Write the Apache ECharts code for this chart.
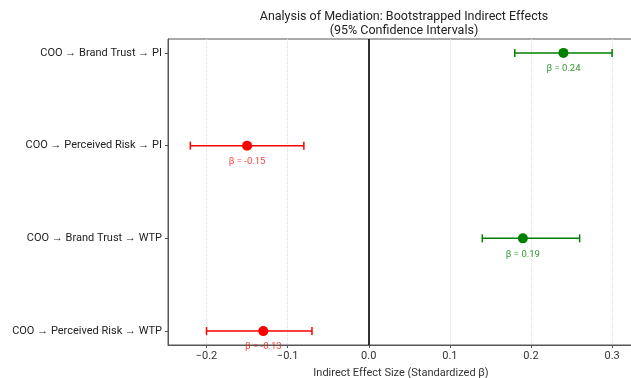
<!DOCTYPE html>
<html>
<head>
<meta charset="utf-8">
<script src="https://cdn.jsdelivr.net/npm/echarts@6/dist/echarts.min.js"></script>
<style>
  html, body { margin: 0; padding: 0; background: #fff; }
  #chart { width: 631px; height: 378px; }
</style>
</head>
<body>
<div id="chart"></div>
<script>
// mediation paths, top to bottom
const paths = ['COO → Brand Trust → PI', 'COO → Perceived Risk → PI', 'COO → Brand Trust → WTP', 'COO → Perceived Risk → WTP']
const betas = [0.24, -0.15, 0.19, -0.13]
const ciLow = [0.18, -0.22, 0.14, -0.20]
const ciHigh = [0.30, -0.08, 0.26, -0.07]
const xTicks = [-0.2, -0.1, 0.0, 0.1, 0.2, 0.3]

const pos = '#008000'
const neg = '#ff0000'
const font = 'Roboto'

let chart = echarts.init(document.getElementById('chart'))

let pointData = betas.map((b, i) => ({
  value: [b, i],
  itemStyle: { color: b >= 0 ? pos : neg, opacity: 1 },
  label: { color: b >= 0 ? 'rgba(0,128,0,0.8)' : 'rgba(255,0,0,0.75)' }
}))
let barData = betas.map((b, i) => [ciLow[i], ciHigh[i], i])

let option = {
  animation: false,
  textStyle: { fontFamily: font },
  title: {
    text: 'Analysis of Mediation: Bootstrapped Indirect Effects\n(95% Confidence Intervals)',
    left: 399,
    textAlign: 'center',
    top: 5,
    textStyle: { fontFamily: font, fontSize: 12.5, fontWeight: 'normal', color: '#222', lineHeight: 14 }
  },
  // right edge of the frame sits just past the canvas, as in the cropped original
  grid: {
    left: 168, right: -3, top: 39, bottom: 33,
    outerBoundsMode: 'none',
    containLabel: false,
    show: true, borderColor: '#555', borderWidth: 1, backgroundColor: 'transparent'
  },
  xAxis: {
    type: 'value',
    min: -0.2475,
    max: 0.327,
    name: 'Indirect Effect Size (Standardized β)',
    nameLocation: 'middle',
    nameGap: 23,
    nameTextStyle: { fontFamily: font, fontSize: 11, color: '#333' },
    axisLine: { show: true, onZero: false, lineStyle: { color: '#555' } },
    axisTick: { show: true, customValues: xTicks, length: 3, lineStyle: { color: '#555' } },
    axisLabel: {
      customValues: xTicks,
      fontFamily: font, fontSize: 11, color: '#333', margin: 6,
      formatter: v => (v < 0 ? '−' : '') + Math.abs(v).toFixed(1)
    },
    splitLine: { show: true, lineStyle: { color: '#ddd', type: 'dotted' } }
  },
  yAxis: {
    type: 'value',
    inverse: true,
    min: -0.15,
    max: 3.15,
    axisLine: { show: true, onZero: false, lineStyle: { color: '#555' } },
    axisTick: { show: true, customValues: [0, 1, 2, 3], length: 3, lineStyle: { color: '#555' } },
    axisLabel: {
      customValues: [0, 1, 2, 3],
      fontFamily: font, fontSize: 11, color: '#222', margin: 6,
      formatter: v => paths[Math.round(v)]
    },
    splitLine: { show: false }
  },
  series: [
    {
      type: 'custom',
      data: barData,
      z: 3,
      renderItem: (params, api) => {
        let y = api.value(2)
        let p1 = api.coord([api.value(0), y])
        let p2 = api.coord([api.value(1), y])
        let color = betas[params.dataIndex] >= 0 ? pos : neg
        let style = { stroke: color, lineWidth: 1.5 }
        let cap = 4
        return {
          type: 'group',
          children: [
            { type: 'line', shape: { x1: p1[0], y1: p1[1], x2: p2[0], y2: p2[1] }, style: style },
            { type: 'line', shape: { x1: p1[0], y1: p1[1] - cap, x2: p1[0], y2: p1[1] + cap }, style: style },
            { type: 'line', shape: { x1: p2[0], y1: p2[1] - cap, x2: p2[0], y2: p2[1] + cap }, style: style }
          ]
        }
      }
    },
    {
      type: 'scatter',
      data: pointData,
      symbolSize: 10,
      z: 4,
      label: {
        show: true,
        position: 'bottom',
        distance: 6,
        fontFamily: font,
        fontSize: 9.5,
        formatter: p => 'β = ' + p.value[0].toFixed(2)
      },
      markLine: {
        silent: true,
        symbol: 'none',
        label: { show: false },
        lineStyle: { color: '#000', width: 1.6, type: 'solid' },
        data: [{ xAxis: 0 }]
      }
    }
  ]
}

option && chart.setOption(option)
</script>
</body>
</html>
